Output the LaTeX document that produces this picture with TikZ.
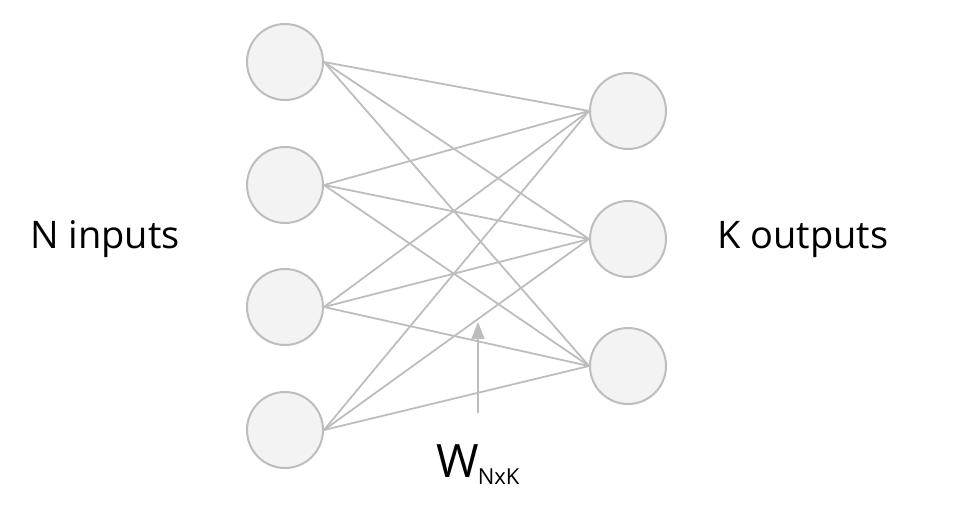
\documentclass[tikz,border=0pt]{standalone}
\usepackage{fontspec}
\setmainfont{Open Sans}
\usetikzlibrary{arrows.meta}

\definecolor{edgegray}{HTML}{BDBDBD}
\definecolor{cellfill}{HTML}{F3F3F3}

\tikzset{
  neuron/.style={circle, draw=edgegray, fill=cellfill, line width=2pt,
                 minimum size=76pt, inner sep=0pt},
  weight/.style={draw=edgegray, line width=1.8pt},
  pointer/.style={draw=edgegray, line width=2pt,
                  -{Triangle[length=17pt, width=13pt]}, edgegray},
  caption/.style={inner sep=0pt, font=\fontsize{38}{38}\selectfont}
}

\begin{document}
\begin{tikzpicture}[x=1pt, y=-1pt]
  \useasboundingbox (0,0) rectangle (970,514);

  % input layer
  \node[neuron] (i1) at (285,62)  {};
  \node[neuron] (i2) at (285,185) {};
  \node[neuron] (i3) at (285,307) {};
  \node[neuron] (i4) at (285,430) {};

  % output layer
  \node[neuron] (o1) at (628,111) {};
  \node[neuron] (o2) at (628,239) {};
  \node[neuron] (o3) at (628,366) {};

  % fully connected weights
  \foreach \i in {1,2,3,4}{
    \foreach \o in {1,2,3}{
      \draw[weight] (i\i.east) -- (o\o.west);
    }
  }

  % layer captions
  \node[caption] (nin)  at (105,239) {N inputs};
  \node[caption] (kout) at (803,239) {K outputs};

  % weight matrix label and its pointer
  \node[inner sep=0pt, anchor=base west] (wlbl) at (436,477)
    {\fontsize{46}{46}\selectfont W\kern-1pt\raisebox{-7pt}{\fontsize{22}{22}\selectfont NxK}};
  \coordinate (wtail) at (478,413);
  \coordinate (whead) at (478,322);
  \draw[pointer] (wtail) -- (whead);
\end{tikzpicture}
\end{document}
